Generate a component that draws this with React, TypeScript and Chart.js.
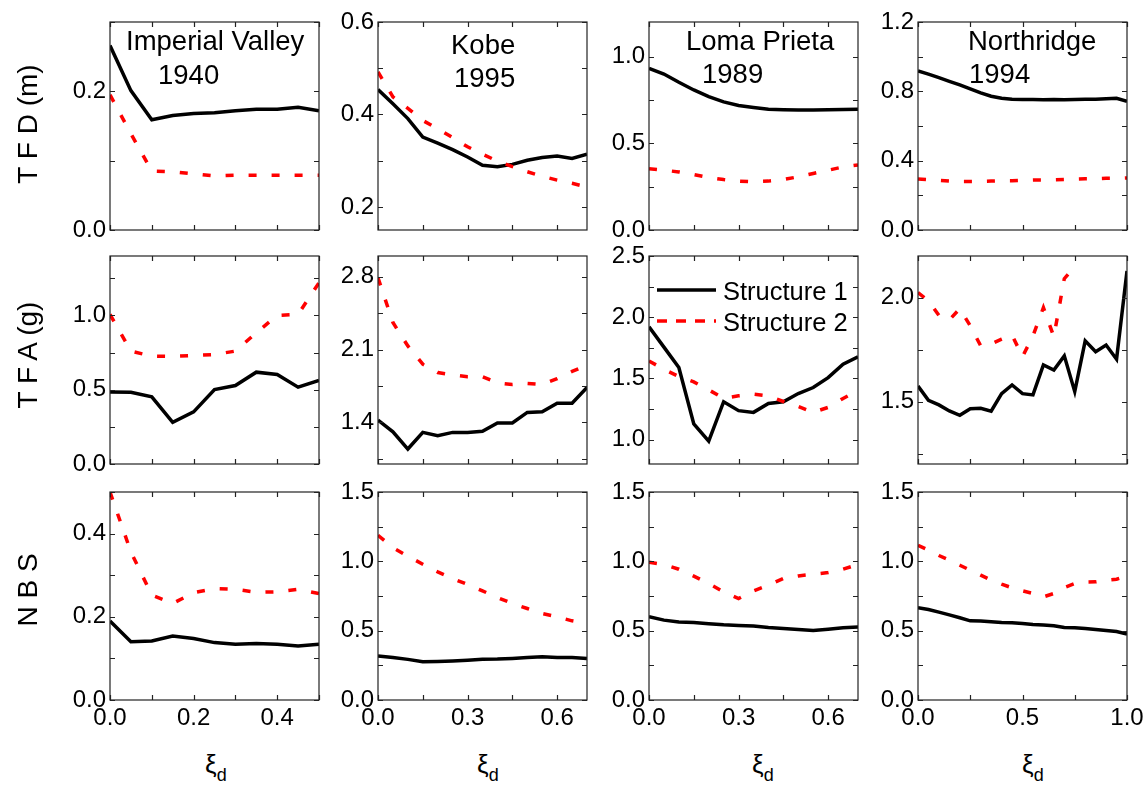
import React, { useEffect, useRef } from 'react';
import { Chart, registerables } from 'chart.js';

Chart.register(...registerables);

const FONT = "'Liberation Sans', Arial, Helvetica, sans-serif";

// ---------- x values (damping ratio ξd) ----------
const xImperial = [0, 0.05, 0.1, 0.15, 0.2, 0.25, 0.3, 0.35, 0.4, 0.45, 0.5];
const xKobe = [0, 0.05, 0.1, 0.15, 0.2, 0.25, 0.3, 0.35, 0.4, 0.45, 0.5, 0.55, 0.6, 0.65, 0.7];
const xLoma = [0, 0.05, 0.1, 0.15, 0.2, 0.25, 0.3, 0.35, 0.4, 0.45, 0.5, 0.55, 0.6, 0.65, 0.7];
const xNorthridge = [0, 0.05, 0.1, 0.15, 0.2, 0.25, 0.3, 0.35, 0.4, 0.45, 0.5, 0.55, 0.6, 0.65, 0.7, 0.75, 0.8, 0.85, 0.9, 0.95, 1.0];

// ---------- TFD (m) ----------
const tfdImperial1 = [0.266, 0.201, 0.159, 0.165, 0.168, 0.169, 0.172, 0.174, 0.174, 0.177, 0.172];
const tfdImperial2 = [0.195, 0.139, 0.085, 0.084, 0.081, 0.078, 0.079, 0.079, 0.079, 0.079, 0.079];
const tfdKobe1 = [0.454, 0.423, 0.391, 0.351, 0.338, 0.324, 0.308, 0.29, 0.287, 0.292, 0.301, 0.307, 0.31, 0.305, 0.314];
const tfdKobe2 = [0.492, 0.438, 0.413, 0.387, 0.369, 0.35, 0.33, 0.314, 0.299, 0.287, 0.276, 0.266, 0.258, 0.251, 0.243];
const tfdLoma1 = [0.933, 0.9, 0.852, 0.808, 0.77, 0.739, 0.718, 0.707, 0.697, 0.694, 0.692, 0.692, 0.694, 0.695, 0.697];
const tfdLoma2 = [0.354, 0.345, 0.335, 0.32, 0.303, 0.291, 0.282, 0.278, 0.282, 0.291, 0.307, 0.326, 0.345, 0.364, 0.375];
const tfdNorthridge1 = [0.918, 0.899, 0.879, 0.858, 0.837, 0.814, 0.791, 0.772, 0.76, 0.755, 0.753, 0.753, 0.751, 0.753, 0.751, 0.753, 0.755, 0.755, 0.757, 0.76, 0.743];
const tfdNorthridge2 = [0.294, 0.29, 0.286, 0.282, 0.28, 0.28, 0.28, 0.282, 0.284, 0.284, 0.286, 0.288, 0.288, 0.29, 0.292, 0.294, 0.296, 0.296, 0.298, 0.298, 0.3];

// ---------- TFA (g) ----------
const tfaImperial1 = [0.485, 0.483, 0.452, 0.281, 0.351, 0.501, 0.528, 0.618, 0.602, 0.517, 0.562];
const tfaImperial2 = [1.007, 0.76, 0.726, 0.724, 0.73, 0.737, 0.76, 0.883, 1.0, 1.007, 1.22];
const tfaKobe1 = [1.422, 1.31, 1.144, 1.304, 1.272, 1.304, 1.304, 1.314, 1.394, 1.394, 1.496, 1.502, 1.585, 1.585, 1.736];
const tfaKobe2 = [2.79, 2.36, 2.135, 1.96, 1.88, 1.857, 1.84, 1.838, 1.78, 1.765, 1.775, 1.765, 1.82, 1.89, 1.95];
const tfaLoma1 = [1.921, 1.755, 1.588, 1.127, 0.986, 1.309, 1.236, 1.222, 1.295, 1.309, 1.376, 1.425, 1.506, 1.615, 1.677];
const tfaLoma2 = [1.642, 1.574, 1.514, 1.471, 1.406, 1.336, 1.357, 1.371, 1.357, 1.311, 1.271, 1.222, 1.263, 1.336, 1.4];
const tfaNorthridge1 = [1.575, 1.506, 1.484, 1.455, 1.434, 1.466, 1.468, 1.454, 1.538, 1.58, 1.538, 1.532, 1.676, 1.652, 1.72, 1.548, 1.792, 1.74, 1.772, 1.704, 2.128];
const tfaNorthridge2 = [2.024, 1.985, 1.915, 1.893, 1.947, 1.864, 1.768, 1.777, 1.8, 1.82, 1.716, 1.816, 1.952, 1.812, 2.091, 2.149];

// ---------- NBS ----------
const nbsImperial1 = [0.19, 0.14, 0.142, 0.154, 0.148, 0.138, 0.134, 0.136, 0.134, 0.13, 0.134];
const nbsImperial2 = [0.5, 0.356, 0.252, 0.232, 0.258, 0.268, 0.266, 0.259, 0.26, 0.266, 0.256];
const nbsKobe1 = [0.317, 0.307, 0.293, 0.276, 0.278, 0.281, 0.286, 0.293, 0.295, 0.3, 0.307, 0.312, 0.307, 0.307, 0.3];
const nbsKobe2 = [1.188, 1.099, 1.037, 0.979, 0.924, 0.876, 0.833, 0.787, 0.739, 0.696, 0.66, 0.624, 0.6, 0.571, 0.552];
const nbsLoma1 = [0.6, 0.576, 0.562, 0.559, 0.55, 0.542, 0.538, 0.533, 0.523, 0.516, 0.509, 0.502, 0.511, 0.521, 0.526];
const nbsLoma2 = [0.994, 0.977, 0.943, 0.893, 0.84, 0.78, 0.732, 0.787, 0.828, 0.876, 0.895, 0.907, 0.919, 0.943, 0.977];
const nbsNorthridge1 = [0.665, 0.653, 0.634, 0.614, 0.593, 0.571, 0.569, 0.564, 0.559, 0.557, 0.552, 0.545, 0.54, 0.535, 0.523, 0.521, 0.516, 0.509, 0.502, 0.494, 0.475];
const nbsNorthridge2 = [1.116, 1.08, 1.042, 1.008, 0.972, 0.936, 0.9, 0.864, 0.835, 0.809, 0.787, 0.768, 0.744, 0.768, 0.811, 0.84, 0.85, 0.852, 0.864, 0.871, 0.893];

// ---------- axis ticks ----------
const xTicksImperial = [0, 0.1, 0.2, 0.3, 0.4, 0.5];
const xLabelsImperial = [0, 0.2, 0.4];
const xTicks07 = [0, 0.15, 0.3, 0.45, 0.6];
const xLabels07 = [0, 0.3, 0.6];
const xTicksNorthridge = [0, 0.25, 0.5, 0.75, 1.0];
const xLabelsNorthridge = [0, 0.5, 1.0];

const seriesNames = ['Structure 1', 'Structure 2'];
const rowTitles = ['T F D (m)', 'T F A (g)', 'N B S'];
const eventNames = ['Imperial Valley', 'Kobe', 'Loma Prieta', 'Northridge'];
const eventYears = ['1940', '1995', '1989', '1994'];

// ---------- layout ----------
const COL_LEFT = [110, 378, 649, 918];
const ROW_TOP = [22, 256, 492];
const PW = 209;
const PH = 208;
const PAD_L = 80;
const PAD_T = 15;
const PAD_R = 25;
const PAD_B = 45;

const columns = [
  { x: xImperial, xMax: 0.5, xTicks: xTicksImperial, xLabels: xLabelsImperial },
  { x: xKobe, xMax: 0.7, xTicks: xTicks07, xLabels: xLabels07 },
  { x: xLoma, xMax: 0.7, xTicks: xTicks07, xLabels: xLabels07 },
  { x: xNorthridge, xMax: 1.0, xTicks: xTicksNorthridge, xLabels: xLabelsNorthridge },
];

type PanelDef = {
  row: number; col: number; s1: number[]; s2: number[];
  yMin: number; yMax: number; yTicks: number[]; yLabels: number[]; legend?: boolean;
};

const panels: PanelDef[] = [
  { row: 0, col: 0, s1: tfdImperial1, s2: tfdImperial2, yMin: 0, yMax: 0.3, yTicks: [0, 0.1, 0.2, 0.3], yLabels: [0, 0.2] },
  { row: 0, col: 1, s1: tfdKobe1, s2: tfdKobe2, yMin: 0.15, yMax: 0.6, yTicks: [0.2, 0.3, 0.4, 0.5, 0.6], yLabels: [0.2, 0.4, 0.6] },
  { row: 0, col: 2, s1: tfdLoma1, s2: tfdLoma2, yMin: 0, yMax: 1.2, yTicks: [0, 0.25, 0.5, 0.75, 1.0], yLabels: [0, 0.5, 1.0] },
  { row: 0, col: 3, s1: tfdNorthridge1, s2: tfdNorthridge2, yMin: 0, yMax: 1.2, yTicks: [0, 0.2, 0.4, 0.6, 0.8, 1.0, 1.2], yLabels: [0, 0.4, 0.8, 1.2] },
  { row: 1, col: 0, s1: tfaImperial1, s2: tfaImperial2, yMin: 0, yMax: 1.4, yTicks: [0, 0.25, 0.5, 0.75, 1.0, 1.25], yLabels: [0, 0.5, 1.0] },
  { row: 1, col: 1, s1: tfaKobe1, s2: tfaKobe2, yMin: 1.0, yMax: 3.0, yTicks: [1.05, 1.4, 1.75, 2.1, 2.45, 2.8], yLabels: [1.4, 2.1, 2.8] },
  { row: 1, col: 2, s1: tfaLoma1, s2: tfaLoma2, yMin: 0.8, yMax: 2.5, yTicks: [1.0, 1.25, 1.5, 1.75, 2.0, 2.25, 2.5], yLabels: [1.0, 1.5, 2.0, 2.5], legend: true },
  { row: 1, col: 3, s1: tfaNorthridge1, s2: tfaNorthridge2, yMin: 1.2, yMax: 2.2, yTicks: [1.25, 1.5, 1.75, 2.0], yLabels: [1.5, 2.0] },
  { row: 2, col: 0, s1: nbsImperial1, s2: nbsImperial2, yMin: 0, yMax: 0.5, yTicks: [0, 0.1, 0.2, 0.3, 0.4, 0.5], yLabels: [0, 0.2, 0.4] },
  { row: 2, col: 1, s1: nbsKobe1, s2: nbsKobe2, yMin: 0, yMax: 1.5, yTicks: [0, 0.25, 0.5, 0.75, 1.0, 1.25, 1.5], yLabels: [0, 0.5, 1.0, 1.5] },
  { row: 2, col: 2, s1: nbsLoma1, s2: nbsLoma2, yMin: 0, yMax: 1.5, yTicks: [0, 0.25, 0.5, 0.75, 1.0, 1.25, 1.5], yLabels: [0, 0.5, 1.0, 1.5] },
  { row: 2, col: 3, s1: nbsNorthridge1, s2: nbsNorthridge2, yMin: 0, yMax: 1.5, yTicks: [0, 0.25, 0.5, 0.75, 1.0, 1.25, 1.5], yLabels: [0, 0.5, 1.0, 1.5] },
];

const RED_DASH = [8, 15];

const has = (arr: number[], v: number) => arr.some((a) => Math.abs(a - v) < 1e-9);

const framePlugin = {
  id: 'frameTicks',
  afterDraw(chart: any) {
    const { ctx, chartArea } = chart;
    const { left, top, right, bottom } = chartArea;
    const xs = chart.scales.x;
    const ys = chart.scales.y;
    const TL = 5;
    ctx.save();
    ctx.strokeStyle = '#222';
    ctx.lineWidth = 1.2;
    ctx.setLineDash([]);
    ctx.strokeRect(left, top, right - left, bottom - top);
    ctx.beginPath();
    xs.ticks.forEach((t: any) => {
      const px = Math.round(xs.getPixelForValue(t.value)) + 0.5;
      ctx.moveTo(px, bottom); ctx.lineTo(px, bottom - TL);
      ctx.moveTo(px, top); ctx.lineTo(px, top + TL);
    });
    ys.ticks.forEach((t: any) => {
      const py = Math.round(ys.getPixelForValue(t.value)) + 0.5;
      ctx.moveTo(left, py); ctx.lineTo(left + TL, py);
      ctx.moveTo(right, py); ctx.lineTo(right - TL, py);
    });
    ctx.stroke();
    ctx.restore();
  },
};

const insideLegendPlugin = {
  id: 'insideLegend',
  afterDraw(chart: any) {
    const opts = chart.options.plugins.insideLegend;
    if (!opts || !opts.show) return;
    const { ctx, chartArea } = chart;
    const { left, top } = chartArea;
    const ds = chart.data.datasets;
    const rows = [
      { ds: ds[0], y: top + 34, base: top + 44 },
      { ds: ds[1], y: top + 65, base: top + 75 },
    ];
    ctx.save();
    rows.forEach((r) => {
      ctx.beginPath();
      ctx.strokeStyle = r.ds.borderColor;
      ctx.lineWidth = r.ds.borderWidth;
      ctx.setLineDash(r.ds.borderDash ? [10, 9] : []);
      ctx.moveTo(left + 8, r.y);
      ctx.lineTo(left + 67, r.y);
      ctx.stroke();
      ctx.setLineDash([]);
      ctx.fillStyle = '#000';
      ctx.font = `25.5px ${FONT}`;
      ctx.textBaseline = 'alphabetic';
      ctx.textAlign = 'left';
      ctx.fillText(r.ds.label, left + 74, r.base);
    });
    ctx.restore();
  },
};

function Panel({ p }: { p: PanelDef }) {
  const ref = useRef<HTMLCanvasElement>(null);
  const col = columns[p.col];
  const W = PAD_L + PW + PAD_R;
  const H = PAD_T + PH + PAD_B;
  useEffect(() => {
    if (!ref.current) return;
    const chart = new Chart(ref.current, {
      type: 'line',
      data: {
        datasets: [
          {
            label: seriesNames[0],
            data: col.x.slice(0, p.s1.length).map((x, i) => ({ x, y: p.s1[i] })),
            borderColor: '#000000',
            borderWidth: 3.5,
            pointRadius: 0,
            tension: 0,
            fill: false,
            order: 1,
          },
          {
            label: seriesNames[1],
            data: col.x.slice(0, p.s2.length).map((x, i) => ({ x, y: p.s2[i] })),
            borderColor: '#ff0000',
            borderWidth: 3.5,
            borderDash: RED_DASH,
            pointRadius: 0,
            tension: 0,
            fill: false,
            order: 0,
          },
        ],
      },
      options: {
        animation: false,
        responsive: false,
        maintainAspectRatio: false,
        events: [],
        layout: { padding: { left: 0, top: PAD_T, right: PAD_R, bottom: 0 } },
        plugins: {
          legend: { display: false },
          tooltip: { enabled: false },
          insideLegend: { show: !!p.legend },
        } as any,
        scales: {
          x: {
            type: 'linear',
            min: 0,
            max: col.xMax,
            afterBuildTicks: (s: any) => { s.ticks = col.xTicks.map((v) => ({ value: v })); },
            afterFit: (s: any) => { s.height = PAD_B; s.paddingLeft = 0; s.paddingRight = 0; },
            grid: { display: false, drawTicks: false },
            border: { display: false },
            ticks: {
              display: p.row === 2,
              autoSkip: false,
              maxRotation: 0,
              padding: 4,
              color: '#000',
              font: { family: FONT, size: 24 },
              callback: (v: any) => (has(col.xLabels, Number(v)) ? Number(v).toFixed(1) : ''),
            },
          },
          y: {
            type: 'linear',
            min: p.yMin,
            max: p.yMax,
            afterBuildTicks: (s: any) => { s.ticks = p.yTicks.map((v) => ({ value: v })); },
            afterFit: (s: any) => { s.width = PAD_L; s.paddingTop = 0; s.paddingBottom = 0; },
            grid: { display: false, drawTicks: false },
            border: { display: false },
            ticks: {
              autoSkip: false,
              padding: 4,
              color: '#000',
              font: { family: FONT, size: 24 },
              callback: (v: any) => (has(p.yLabels, Number(v)) ? Number(v).toFixed(1) : ''),
            },
          },
        },
      } as any,
      plugins: [framePlugin, insideLegendPlugin],
    });
    return () => chart.destroy();
  }, []);
  return (
    <canvas
      ref={ref}
      width={W}
      height={H}
      style={{
        position: 'absolute',
        left: COL_LEFT[p.col] - PAD_L,
        top: ROW_TOP[p.row] - PAD_T,
        width: W,
        height: H,
      }}
    />
  );
}

const textBase: React.CSSProperties = {
  position: 'absolute',
  fontFamily: FONT,
  color: '#000',
  whiteSpace: 'nowrap',
};

const titlePos = [
  { name: { left: 126, top: 27.4 }, year: { left: 158, top: 60.7 } },
  { name: { left: 451, top: 30.7 }, year: { left: 454, top: 64.4 } },
  { name: { left: 686, top: 26.7 }, year: { left: 702, top: 60 } },
  { name: { left: 968, top: 26.7 }, year: { left: 969, top: 60 } },
];

const rowTitleCenters = [124, 355, 590];
const xiLeft = [205, 477, 752, 1022];

export default function App() {
  return (
    <div style={{ position: 'fixed', left: 0, top: 0, width: 1146, height: 786, background: '#fff', overflow: 'hidden' }}>
      {panels.map((p, i) => (
        <Panel key={i} p={p} />
      ))}
      {eventNames.map((n, i) => (
        <React.Fragment key={n}>
          <div style={{ ...textBase, fontSize: 27.5, lineHeight: '27.5px', left: titlePos[i].name.left, top: titlePos[i].name.top }}>{n}</div>
          <div style={{ ...textBase, fontSize: 27.5, lineHeight: '27.5px', left: titlePos[i].year.left, top: titlePos[i].year.top }}>{eventYears[i]}</div>
        </React.Fragment>
      ))}
      {rowTitles.map((t, i) => (
        <div
          key={t}
          style={{
            ...textBase,
            fontSize: 28,
            lineHeight: '28px',
            width: 200,
            height: 28,
            textAlign: 'center',
            left: 28.3 - 100,
            top: rowTitleCenters[i] - 14,
            transform: 'rotate(-90deg)',
          }}
        >
          {t}
        </div>
      ))}
      {xiLeft.map((l, i) => (
        <div key={i} style={{ ...textBase, fontSize: 26, lineHeight: '26px', left: l, top: 751 }}>
          ξ<span style={{ fontSize: 18, position: 'relative', top: 8 }}>d</span>
        </div>
      ))}
    </div>
  );
}
